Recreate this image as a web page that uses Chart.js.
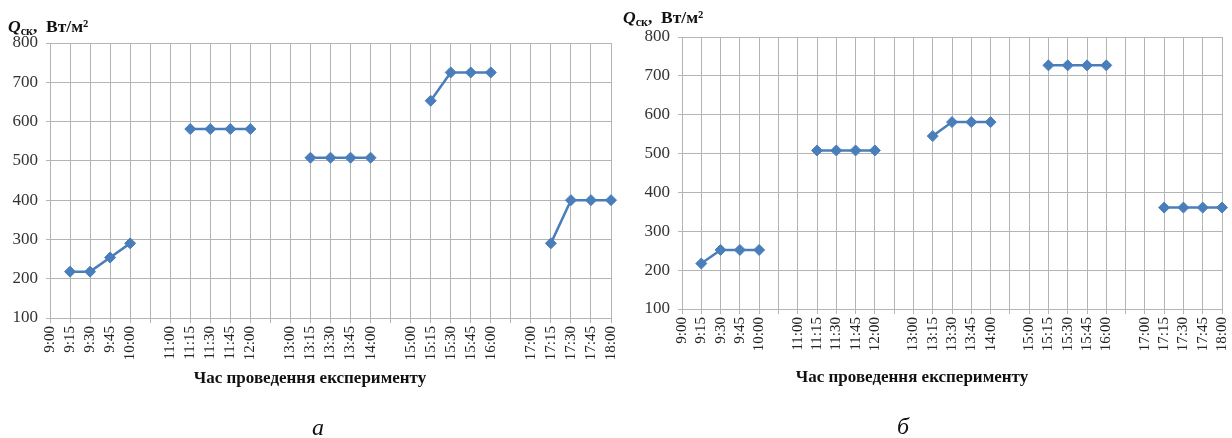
<!DOCTYPE html>
<html>
<head>
<meta charset="utf-8">
<script src="https://cdn.jsdelivr.net/npm/chart.js@4.4.1/dist/chart.umd.min.js"></script>
<style>
  body { margin: 0; background: #fff; width: 1232px; height: 438px; position: relative; overflow: hidden; font-family: 'Liberation Serif', serif; }
  .box { position: absolute; top: 0; height: 438px; }
  .ytitle { position: absolute; font-weight: bold; font-size: 17.5px; line-height: 20px; color: #111; white-space: nowrap; }
  .ytitle sub { font-size: 12px; vertical-align: -3px; }
  .xtitle { position: absolute; font-weight: bold; font-size: 17px; line-height: 20px; color: #111; white-space: nowrap; transform: translateX(-50%); }
  .panel { position: absolute; font-style: italic; font-size: 24px; line-height: 28px; color: #111; }
</style>
</head>
<body>
<div class="box" style="left:0; width:620px;"><canvas id="chartA"></canvas></div>
<div class="box" style="left:630px; width:602px;"><canvas id="chartB"></canvas></div>

<div class="ytitle" style="left:8px; top:16px;"><i>Q</i><sub>ск</sub>,&nbsp; Вт/м²</div>
<div class="ytitle" style="left:623px; top:7px;"><i>Q</i><sub>ск</sub>,&nbsp; Вт/м²</div>
<div class="xtitle" id="xTitleA" style="left:310px; top:368px;"></div>
<div class="xtitle" id="xTitleB" style="left:912px; top:367px;"></div>
<div class="panel" style="left:312px; top:413px;">а</div>
<div class="panel" style="left:897px; top:412px;">б</div>

<script>
// time labels, empty strings are the gaps between the hourly groups
const timeLabels = [
  '9:00', '9:15', '9:30', '9:45', '10:00', '',
  '11:00', '11:15', '11:30', '11:45', '12:00', '',
  '13:00', '13:15', '13:30', '13:45', '14:00', '',
  '15:00', '15:15', '15:30', '15:45', '16:00', '',
  '17:00', '17:15', '17:30', '17:45', '18:00'
];

// chart "а"
const valuesA = [
  null, 218, 218, 254, 290, null,
  null, 581, 581, 581, 581, null,
  null, 508, 508, 508, 508, null,
  null, 653, 725, 725, 725, null,
  null, 290, 400, 400, 400
];

// chart "б"
const valuesB = [
  null, 217, 252, 252, 252, null,
  null, 508, 508, 508, 508, null,
  null, 545, 581, 581, 581, null,
  null, 727, 727, 727, 727, null,
  null, 361, 361, 361, 361
];

const yTicks = [100, 200, 300, 400, 500, 600, 700, 800];
const xTitle = 'Час проведення експерименту';

document.getElementById('xTitleA').textContent = xTitle;
document.getElementById('xTitleB').textContent = xTitle;

const gridGray = '#b4b4b4';
const lineBlue = '#4a7ebb';

function makeChart(id, values, opts) {
    const ctx = document.getElementById(id).getContext('2d');
    return new Chart(ctx, {
        type: 'line',
        data: {
            labels: timeLabels,
            datasets: [{
                data: values,
                borderColor: lineBlue,
                backgroundColor: lineBlue,
                borderWidth: 2.5,
                pointStyle: 'rectRot',
                pointRadius: 5.5,
                pointBorderWidth: 1,
                spanGaps: false,
                tension: 0
            }]
        },
        options: {
            responsive: true,
            maintainAspectRatio: false,
            animation: false,
            layout: { padding: opts.padding },
            plugins: { legend: { display: false }, tooltip: { enabled: false } },
            scales: {
                x: {
                    offset: false,
                    grid: { color: gridGray, tickLength: 5, lineWidth: 1 },
                    border: { color: gridGray },
                    ticks: {
                        autoSkip: false,
                        minRotation: 90,
                        maxRotation: 90,
                        padding: 3,
                        color: '#222',
                        font: { family: 'Liberation Serif', size: 15 }
                    },
                    afterFit: function(scale) {
                        scale.height = opts.xHeight;
                        // let the layout padding decide the plot edges
                        scale.paddingLeft = 0;
                        scale.paddingRight = 0;
                    }
                },
                y: {
                    min: 100,
                    max: 800,
                    afterBuildTicks: function(scale) {
                        scale.ticks = yTicks.map(v => ({ value: v }));
                    },
                    grid: { color: gridGray, tickLength: 4, lineWidth: 1 },
                    border: { color: gridGray },
                    ticks: {
                        padding: 8,
                        color: '#333',
                        font: { family: 'Liberation Serif', size: 17 }
                    },
                    afterFit: function(scale) { scale.width = opts.yWidth; }
                }
            }
        }
    });
}

makeChart('chartA', valuesA, {
    padding: { left: 0, top: 43, right: 9, bottom: 46 },
    xHeight: 74,
    yWidth: 50
});

makeChart('chartB', valuesB, {
    padding: { left: 0, top: 37, right: 10, bottom: 52 },
    xHeight: 77,
    yWidth: 52
});
</script>
</body>
</html>
